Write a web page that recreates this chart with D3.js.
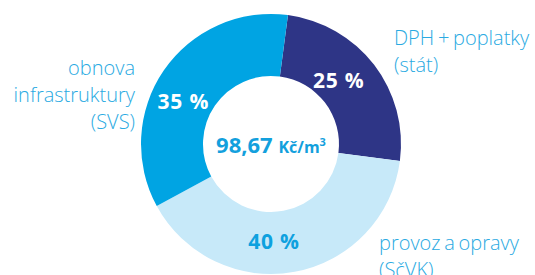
<!DOCTYPE html>
<html><head><meta charset="utf-8">
<script src="https://cdn.jsdelivr.net/npm/d3@7"></script>
<style>html,body{margin:0;padding:0;background:#fff;overflow:hidden}</style>
</head><body>
<svg id="c" width="535" height="275"></svg>
<script>
const categories = ["DPH + poplatky (stát)", "provoz a opravy (SčVK)", "obnova infrastruktury (SVS)"];
const labelLines = [["DPH + poplatky", "(stát)"], ["provoz a opravy", "(SčVK)"], ["obnova", "infrastruktury", "(SVS)"]];
const values = [25, 40, 35];
const colors = ["#2e3586", "#c7e9f9", "#00a4e3"];
const pctColors = ["#ffffff", "#0ea1df", "#ffffff"];
const totalValue = "98,67";
const totalUnit = "Kč/m";

const svg = d3.select("#c");
const cx = 271, cy = 144, rO = 130, rI = 68;
const g = svg.append("g").attr("transform", `translate(${cx},${cy})`);
const pie = d3.pie().sort(null).value(d => d).startAngle(7.5 * Math.PI / 180).endAngle((360 + 7.5) * Math.PI / 180);
const arcs = pie(values);
const arc = d3.arc().innerRadius(rI).outerRadius(rO);
g.selectAll("path").data(arcs).join("path").attr("d", arc).attr("fill", (d, i) => colors[i]);

const labelArc = d3.arc().innerRadius(93).outerRadius(93);
const adj = [[-6, -7], [-14, 6], [-11, 10]];
g.selectAll("text.pct").data(arcs).join("text").attr("class", "pct")
  .attr("x", (d, i) => labelArc.centroid(d)[0] + adj[i][0])
  .attr("y", (d, i) => labelArc.centroid(d)[1] + adj[i][1])
  .attr("text-anchor", "middle").attr("dominant-baseline", "central")
  .attr("font-family", "'Open Sans', sans-serif").attr("font-weight", 700).attr("font-size", 21)
  .attr("letter-spacing", 0.8)
  .attr("fill", (d, i) => pctColors[i])
  .text(d => d.data + " %");

const center = g.append("text").attr("text-anchor", "middle").attr("y", 9)
  .attr("font-family", "'Open Sans', sans-serif").attr("font-weight", 700).attr("fill", "#13a0dd");
center.append("tspan").attr("font-size", 22).text(totalValue + " ");
center.append("tspan").attr("font-size", 16).text(totalUnit);
center.append("tspan").attr("font-size", 11).attr("dy", -7).text("3");

const labelPos = [
  {x: 394, y: 45, anchor: "start"},
  {x: 379, y: 250, anchor: "start"},
  {x: 135, y: 75, anchor: "end"}
];
labelLines.forEach((lines, i) => {
  const t = svg.append("text").attr("x", labelPos[i].x).attr("y", labelPos[i].y)
    .attr("text-anchor", labelPos[i].anchor)
    .attr("font-family", "'Open Sans', sans-serif").attr("font-weight", 300)
    .attr("font-size", 20).attr("word-spacing", -1.5).attr("fill", "#2aaae2");
  lines.forEach((l, j) => t.append("tspan").attr("x", labelPos[i].x).attr("dy", j === 0 ? 0 : 27).text(l));
});
</script>
</body></html>
